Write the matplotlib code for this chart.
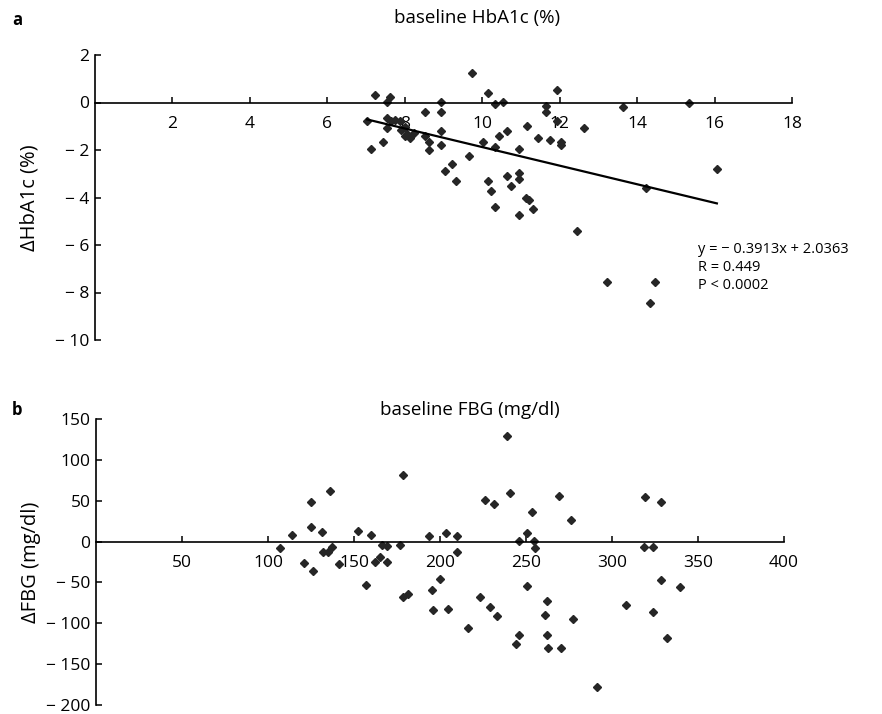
import matplotlib
matplotlib.use("Agg")
import matplotlib.pyplot as plt
from matplotlib.ticker import FuncFormatter
import numpy as np

plt.rcParams['font.family'] = ['Open Sans', 'DejaVu Sans']

# Panel a: baseline HbA1c (%) vs change in HbA1c (%)
hba1c_base = [9.73, 7.22, 7.61, 7.54, 10.15, 10.33, 10.54, 8.93, 11.94, 11.64,
              11.64, 8.53, 8.93, 13.63, 15.34, 7.02, 7.54, 7.65, 7.75, 7.88,
              7.54, 7.91, 8.01, 8.06, 8.14, 8.01, 8.23, 7.43, 7.13, 8.53,
              8.62, 8.62, 8.93, 8.93, 9.66, 9.22, 9.03, 9.32, 10.03, 10.34,
              10.44, 10.63, 11.15, 11.94, 12.64, 11.44, 11.74, 12.03, 12.03, 10.94,
              10.14, 10.22, 10.63, 10.94, 10.94, 10.74, 11.14, 11.22, 11.32, 10.34,
              10.94, 12.44, 16.06, 14.23, 14.45, 14.34, 13.23]
hba1c_delta = [1.26, 0.32, 0.23, 0.03, 0.42, -0.07, 0.02, 0.02, 0.53, -0.14,
               -0.38, -0.38, -0.38, -0.17, 0.0, -0.77, -0.66, -0.76, -0.73, -0.76,
               -1.08, -1.15, -1.05, -1.33, -1.50, -1.43, -1.29, -1.67, -1.96, -1.40,
               -1.68, -1.99, -1.18, -1.81, -2.27, -2.60, -2.90, -3.30, -1.66, -1.88,
               -1.41, -1.19, -1.01, -0.77, -1.09, -1.50, -1.58, -1.65, -1.81, -1.96,
               -3.30, -3.71, -3.08, -2.98, -3.21, -3.53, -4.00, -4.10, -4.50, -4.40,
               -4.72, -5.43, -2.82, -3.62, -7.55, -8.45, -7.56]
fit_slope = -0.3913
fit_intercept = 2.0363

# Panel b: baseline FBG (mg/dl) vs change in FBG (mg/dl)
fbg_base = [106.8, 114.0, 125.0, 136.1, 125.0, 131.2, 120.7, 126.2, 131.8, 134.7,
            137.2, 141.1, 152.1, 159.9, 157.0, 162.4, 165.4, 169.2, 166.3, 169.2,
            176.7, 178.2, 178.2, 181.3, 193.5, 203.2, 210.0, 210.0, 200.1, 195.3,
            195.9, 204.9, 216.0, 226.4, 231.3, 240.6, 239.2, 223.5, 229.3, 233.0,
            246.0, 244.1, 250.5, 246.0, 254.5, 255.3, 253.4, 250.5, 269.2, 276.4,
            262.4, 261.3, 262.4, 263.0, 270.4, 277.2, 291.1, 308.1, 319.2, 328.3,
            318.6, 324.0, 328.3, 339.3, 324.0, 332.1]
fbg_delta = [-7.4, 7.7, 48.9, 61.5, 18.2, 11.4, -25.8, -36.4, -13.1, -13.1,
             -6.2, -27.4, 13.0, 7.5, -52.7, -24.6, -19.0, -24.6, -4.3, -5.4,
             -4.0, 81.1, -68.2, -64.1, 6.5, 10.1, 6.5, -13.1, -45.4, -59.2,
             -83.7, -82.5, -105.7, 51.3, 46.0, 59.1, 129.6, -68.2, -80.0, -91.5,
             -114.7, -125.0, 10.1, 1.1, 1.1, -7.8, 35.8, -54.0, 56.2, 26.8,
             -72.3, -90.2, -114.7, -130.2, -130.2, -95.1, -177.6, -77.2, 54.2, 48.8,
             -6.6, -6.6, -46.6, -55.6, -86.2, -118.4]

a_xticks = [2, 4, 6, 8, 10, 12, 14, 16, 18]
a_yticks = [-10, -8, -6, -4, -2, 0, 2]
b_xticks = [50, 100, 150, 200, 250, 300, 350, 400]
b_yticks = [-200, -150, -100, -50, 0, 50, 100, 150]

W, H = 882, 714
fig = plt.figure(figsize=(W / 100, H / 100), dpi=100)

def fmt(v, pos):
    v = int(round(v))
    return "\u2212 %d" % abs(v) if v < 0 else "%d" % v

def style(ax, xlim, ylim, xticks, yticks):
    ax.set_xlim(*xlim)
    ax.set_ylim(*ylim)
    ax.set_xticks(xticks)
    ax.set_yticks(yticks)
    ax.spines['top'].set_visible(False)
    ax.spines['right'].set_visible(False)
    ax.spines['bottom'].set_position(('data', 0))
    for s in ('left', 'bottom'):
        ax.spines[s].set_linewidth(1.2)
    ax.tick_params(axis='x', direction='in', length=4, width=1.1, pad=10, labelsize=12.5)
    ax.tick_params(axis='y', direction='in', length=4, width=1.1, pad=4, labelsize=12.5)
    ax.yaxis.set_major_formatter(FuncFormatter(fmt))
    ax.patch.set_alpha(0)

# ---- panel a ----
axa = fig.add_axes([95 / W, 1 - 340 / H, (792 - 95) / W, (340 - 55) / H])
style(axa, (0, 18), (-10, 2), a_xticks, a_yticks)
axa.plot(hba1c_base, hba1c_delta, linestyle='none', marker='D', markersize=4.5,
         color='#262626', clip_on=False)
xf = np.array([min(hba1c_base), max(hba1c_base)])
axa.plot(xf, fit_slope * xf + fit_intercept, color='black', linewidth=1.6)
axa.set_ylabel('\u0394HbA1c (%)', fontsize=14.5)
axa.yaxis.set_label_coords(-0.079, 0.5)
for i, line in enumerate(['y = \u2212 0.3913x + 2.0363', 'R = 0.449', 'P < 0.0002']):
    axa.text(15.57, -6.2 - 0.76 * i, line, fontsize=10.5, va='center', ha='left')

# ---- panel b ----
axb = fig.add_axes([96 / W, 1 - 705 / H, (784 - 96) / W, (705 - 419) / H])
style(axb, (0, 400), (-200, 150), b_xticks, b_yticks)
axb.plot(fbg_base, fbg_delta, linestyle='none', marker='D', markersize=4.5,
         color='#262626', clip_on=False)
axb.set_ylabel('\u0394FBG (mg/dl)', fontsize=14.5)
axb.yaxis.set_label_coords(-0.08, 0.5)

fig.text(477 / W, 1 - 18 / H, 'baseline HbA1c (%)', fontsize=13.5, ha='center', va='center')
fig.text(470 / W, 1 - 410 / H, 'baseline FBG (mg/dl)', fontsize=13.5, ha='center', va='center')
fig.text(12 / W, 1 - 20 / H, 'a', fontsize=12, fontweight='bold', ha='left', va='center')
fig.text(12 / W, 1 - 410 / H, 'b', fontsize=12, fontweight='bold', ha='left', va='center')

fig.savefig('out.png', dpi=100)
